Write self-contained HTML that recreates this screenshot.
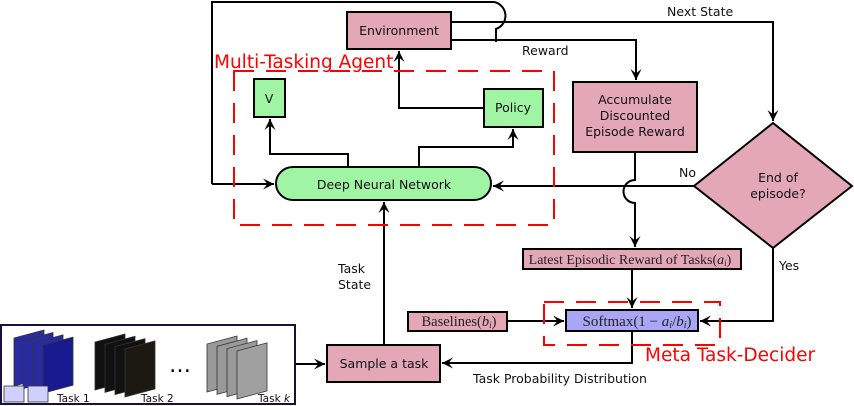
<!DOCTYPE html>
<html><head><style>body{margin:0;background:#fff;overflow:hidden}svg{display:block}</style></head><body>
<svg width="854" height="406" viewBox="0 0 854 406" xmlns="http://www.w3.org/2000/svg" font-family="'DejaVu Sans','Liberation Sans',sans-serif">
<defs>
<marker id="a" viewBox="0 0 10 10" refX="10" refY="5" markerWidth="11" markerHeight="11" orient="auto-start-reverse" markerUnits="userSpaceOnUse"><path d="M0,0 L10,5 L0,10 L4,5z" fill="#000"/></marker>
<clipPath id="c"><rect x="2" y="326" width="292" height="77"/></clipPath>
</defs>
<g fill="none" stroke="#000" stroke-width="2">
<path d="M212,184 V2 H494 A14,14 0 0 1 496,29 V42" />
<path d="M212,184 H274" marker-end="url(#a)"/>
<path d="M451,22 H773 V121" marker-end="url(#a)"/>
<path d="M451,40 H636 V80" marker-end="url(#a)"/>
<path d="M484,108 H399 V51" marker-end="url(#a)"/>
<path d="M348,167 V154 H270 V119" marker-end="url(#a)"/>
<path d="M419,167 V147 H513 V129" marker-end="url(#a)"/>
<path d="M694,186 H493" marker-end="url(#a)"/>
<path d="M635,152 V180 A11,11 0 0 0 635,203 V247" marker-end="url(#a)"/>
<path d="M632,269 V308" marker-end="url(#a)"/>
<path d="M507,321 H564" marker-end="url(#a)"/>
<path d="M773,248 V321 H700" marker-end="url(#a)"/>
<path d="M632,331 V363 H442" marker-end="url(#a)"/>
<path d="M384,345 V202" marker-end="url(#a)"/>
<path d="M295,364 H325" marker-end="url(#a)"/>
</g>
<rect x="234" y="71" width="320" height="154" fill="none" stroke="#f00" stroke-width="2" stroke-dasharray="20,12"/>
<rect x="544" y="302" width="176" height="43" fill="none" stroke="#f00" stroke-width="2" stroke-dasharray="20,12"/>
<g stroke="#000" stroke-width="2">
<rect x="347" y="12" width="104" height="37" fill="#e3a7b5"/>
<rect x="254" y="79" width="31" height="38" fill="#a0f5a5"/>
<rect x="484" y="89" width="59" height="38" fill="#a0f5a5"/>
<path d="M293,167 H474 A17,16.5 0 0 1 474,200 H293 A17,16.5 0 0 1 293,167 Z" fill="#a0f5a5"/>
<rect x="573" y="82" width="124" height="70" fill="#e3a7b5"/>
<path d="M773,123 L852,186 L773,248 L694,186 Z" fill="#e3a7b5"/>
<rect x="523" y="249" width="218" height="20" fill="#e3a7b5"/>
<rect x="566" y="310" width="132" height="21" fill="#aaa6f5"/>
<rect x="408" y="312" width="99" height="19" fill="#e3a7b5"/>
<rect x="327" y="345" width="113" height="37" fill="#e3a7b5"/>
<rect x="1" y="325" width="294" height="79" fill="#fff" stroke="#1a1040"/>
</g>
<g stroke="#333" stroke-width="0.8" clip-path="url(#c)">
<g transform="translate(14,338) skewY(-15)">
<rect x="0" y="0" width="30" height="48" fill="#2a2aa0"/><rect x="9" y="5" width="30" height="48" fill="#2a2aa0"/><rect x="19" y="10" width="30" height="48" fill="#2a2aa0"/><rect x="29" y="15" width="30" height="48" fill="#1a1a90"/>
</g>
<g transform="translate(95,342) skewY(-15)">
<rect x="0" y="0" width="30" height="48" fill="#111"/><rect x="10" y="5" width="30" height="48" fill="#111"/><rect x="20" y="10" width="30" height="48" fill="#111"/><rect x="30" y="15" width="30" height="48" fill="#1a1a10"/>
</g>
<g transform="translate(207,344) skewY(-15)">
<rect x="0" y="0" width="30" height="48" fill="#999"/><rect x="10" y="5" width="30" height="48" fill="#999"/><rect x="20" y="10" width="30" height="48" fill="#999"/><rect x="30" y="15" width="30" height="48" fill="#a0a0a0"/>
</g>
<rect x="4" y="386" width="20" height="16" fill="#d0d0ff"/><rect x="28" y="386" width="20" height="16" fill="#d0d0ff"/>
</g>
<text x="180" y="372" font-size="22" text-anchor="middle">…</text>
<g font-size="10.5" fill="#111"><text x="57" y="402">Task 1</text><text x="141" y="402">Task 2</text><text x="258" y="402">Task <tspan font-style="italic">k</tspan></text></g>
<g font-size="12.5" fill="#111" text-anchor="middle">
<text x="399" y="35">Environment</text>
<text x="269" y="103">V</text>
<text x="513" y="112">Policy</text>
<text x="384" y="189">Deep Neural Network</text>
<text x="635" y="104">Accumulate</text>
<text x="635" y="120">Discounted</text>
<text x="635" y="136">Episode Reward</text>
<text x="778" y="182">End of</text>
<text x="778" y="198">episode?</text>
<text x="384" y="368">Sample a task</text>
</g>
<g font-size="12.5" fill="#111">
<text x="667" y="16">Next State</text>
<text x="522" y="55">Reward</text>
<text x="679" y="177">No</text>
<text x="779" y="270">Yes</text>
<text x="338" y="273">Task</text>
<text x="338" y="289">State</text>
<text x="473" y="383">Task Probability Distribution</text>
</g>
<g font-family="'Liberation Serif',serif" fill="#222">
<text x="630" y="264" text-anchor="middle" font-size="14">Latest Episodic Reward of Tasks(<tspan font-style="italic">a<tspan font-size="9" dy="2">i</tspan></tspan><tspan dy="-2">)</tspan></text>
<text x="637" y="326" text-anchor="middle" font-size="15">Softmax(1 − <tspan font-style="italic">a</tspan><tspan font-size="10" dy="2" font-style="italic">i</tspan><tspan dy="-2">/</tspan><tspan font-style="italic">b</tspan><tspan font-size="10" dy="2" font-style="italic">i</tspan><tspan dy="-2">)</tspan></text>
<text x="459" y="326" text-anchor="middle" font-size="14.5">Baselines(<tspan font-style="italic">b</tspan><tspan font-size="9" dy="2" font-style="italic">i</tspan><tspan dy="-2">)</tspan></text>
</g>
<text x="214" y="68" font-size="18.5" fill="#f00">Multi-Tasking Agent</text>
<text x="645" y="361" font-size="18.5" fill="#f00">Meta Task-Decider</text>
</svg>
</body></html>
